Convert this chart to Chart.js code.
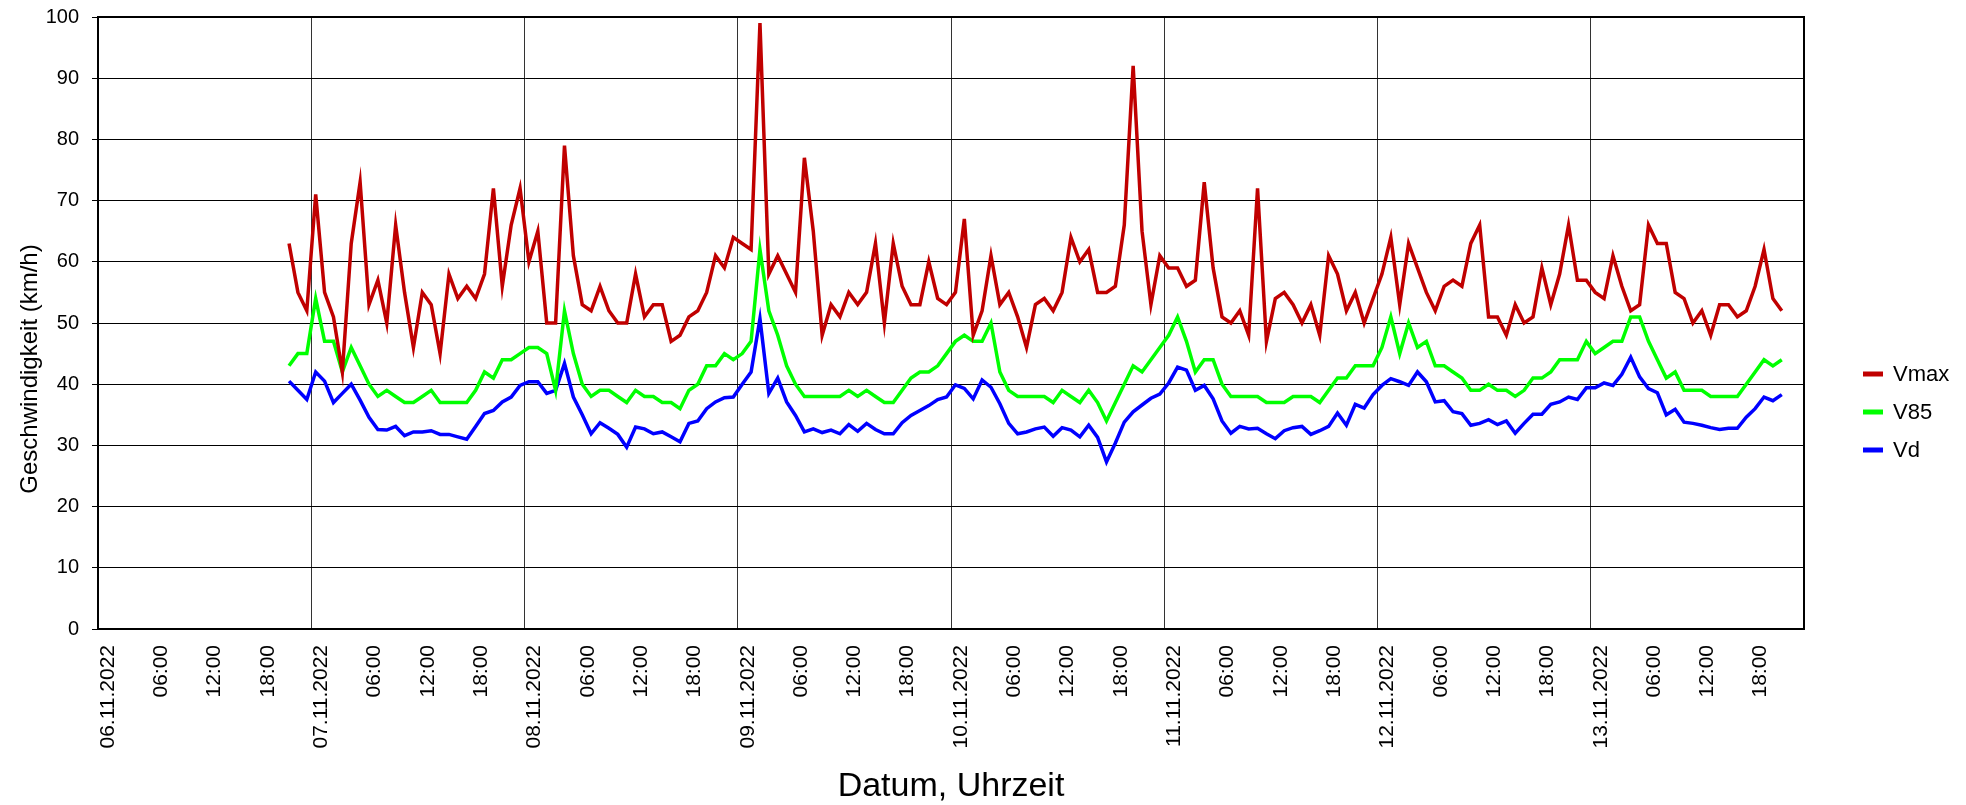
<!DOCTYPE html>
<html>
<head>
<meta charset="utf-8">
<title>Geschwindigkeit</title>
<script src="https://cdn.jsdelivr.net/npm/chart.js@4.4.1/dist/chart.umd.min.js"></script>
<style>
    html, body { margin: 0; padding: 0; background: #fff; }
    canvas { display: block; }
</style>
</head>
<body>
<canvas id="speedChart" width="1966" height="805"></canvas>
<script>
// stuendliche Werte, erster Wert 06.11.2022 21:30 (Stunden ab 06.11.2022 00:00)
const firstHour = 21.5;
const startDay = 6;
const totalHours = 192;

const vmax = [
    63,55,52,71,55,51,42,63,73,53,57,50,66,55,46,55,53,45,58,54,56,54,58,72,56,66,72,60,
    65,50,50,79,61,53,52,56,52,50,50,58,51,53,53,47,48,51,52,55,61,59,64,63,62,99,58,61,
    58,55,77,65,48,53,51,55,53,55,63,50,63,56,53,53,60,54,53,55,67,48,52,61,53,55,51,46,
    53,54,52,55,64,60,62,55,55,56,66,92,65,53,61,59,59,56,57,73,59,51,50,52,48,72,47,54,
    55,53,50,53,48,61,58,52,55,50,54,58,64,53,63,59,55,52,56,57,56,63,66,51,51,48,53,50,
    51,59,53,58,66,57,57,55,54,61,56,52,53,66,63,63,55,54,50,52,48,53,53,51,52,56,62,54,52
];
const v85 = [
    43,45,45,54,47,47,42,46,43,40,38,39,38,37,37,38,39,37,37,37,37,39,42,41,44,44,45,46,
    46,45,39,52,45,40,38,39,39,38,37,39,38,38,37,37,36,39,40,43,43,45,44,45,47,62,52,48,
    43,40,38,38,38,38,38,39,38,39,38,37,37,39,41,42,42,43,45,47,48,47,47,50,42,39,38,38,
    38,38,37,39,38,37,39,37,34,37,40,43,42,44,46,48,51,47,42,44,44,40,38,38,38,38,37,37,
    37,38,38,38,37,39,41,41,43,43,43,46,51,45,50,46,47,43,43,42,41,39,39,40,39,39,38,39,
    41,41,42,44,44,44,47,45,46,47,47,51,51,47,44,41,42,39,39,39,38,38,38,38,40,42,44,43,44
];
const vd = [
    40.5,39,37.5,42,40.5,37,38.5,40,37.4,34.6,32.6,32.5,33.1,31.6,32.2,32.2,32.4,31.8,31.8,31.4,31,33.1,35.2,35.7,37.1,37.9,39.8,40.4,
    40.4,38.5,39,43.4,37.9,35,31.9,33.7,32.8,31.8,29.7,33,32.7,31.9,32.2,31.4,30.6,33.6,34,36,37.1,37.8,37.9,40,42,50.7,38.5,41,
    37.1,34.9,32.2,32.7,32.1,32.5,31.9,33.4,32.3,33.6,32.6,31.9,31.9,33.7,34.9,35.7,36.5,37.5,37.9,39.9,39.3,37.6,40.7,39.5,36.8,33.6,31.9,32.2,
    32.7,33,31.5,32.9,32.5,31.4,33.3,31.3,27.3,30.4,33.8,35.5,36.6,37.7,38.4,40.2,42.8,42.3,39,39.8,37.6,34,32,33.1,32.7,32.8,31.9,31.1,
    32.4,32.9,33.1,31.8,32.4,33.1,35.3,33.3,36.7,36.1,38.3,39.8,40.9,40.4,39.8,42,40.4,37.1,37.3,35.5,35.2,33.3,33.6,34.2,33.4,34,32,33.6,
    35.1,35.1,36.7,37.1,37.9,37.5,39.4,39.4,40.2,39.8,41.6,44.4,41.2,39.3,38.6,35,35.9,33.8,33.6,33.3,32.9,32.6,32.8,32.8,34.6,36,37.9,37.3,38.3
];

const seriesNames = ['Vmax', 'V85', 'Vd'];
const seriesValues = [vmax, v85, vd];
const seriesColors = ['#c00000', '#00ff00', '#0000ff'];

const fontFamily = '"Liberation Sans", Arial, Helvetica, sans-serif';

function pad2(n) {
    return (n < 10 ? '0' : '') + n;
}

function hourLabel(value) {
    if (value >= totalHours) return '';
    if (value % 24 === 0) {
        return pad2(startDay + value / 24) + '.11.2022';
    }
    return pad2(value % 24) + ':00';
}

// Rahmen, Achsentitel und Legende
const extras = {
    id: 'extras',
    afterDraw(chart) {
        const ctx = chart.ctx;
        const a = chart.chartArea;
        ctx.save();
        ctx.strokeStyle = '#000';
        ctx.lineWidth = 2;
        ctx.strokeRect(a.left, a.top, a.right - a.left, a.bottom - a.top);

        ctx.fillStyle = '#000';
        ctx.textAlign = 'center';
        ctx.textBaseline = 'middle';
        ctx.font = '34px ' + fontFamily;
        ctx.fillText('Datum, Uhrzeit', (a.left + a.right) / 2, 787);

        ctx.save();
        ctx.translate(30, 369);
        ctx.rotate(-Math.PI / 2);
        ctx.font = '24px ' + fontFamily;
        ctx.fillText('Geschwindigkeit (km/h)', 0, 0);
        ctx.restore();

        ctx.font = '22px ' + fontFamily;
        ctx.textAlign = 'left';
        seriesNames.forEach(function(name, k) {
            const y = 374 + 38 * k;
            ctx.strokeStyle = seriesColors[k];
            ctx.lineWidth = 5;
            ctx.beginPath();
            ctx.moveTo(1863, y);
            ctx.lineTo(1883, y);
            ctx.stroke();
            ctx.fillStyle = '#000';
            ctx.fillText(name, 1893, y + 1);
        });
        ctx.restore();
    }
};

const datasets = seriesNames.map(function(name, k) {
    return {
        label: name,
        data: seriesValues[k].map(function(v, i) { return { x: firstHour + i, y: v }; }),
        borderColor: seriesColors[k],
        backgroundColor: seriesColors[k],
        borderWidth: 3.5,
        pointRadius: 0,
        tension: 0,
        fill: false
    };
});

new Chart(document.getElementById('speedChart').getContext('2d'), {
    type: 'line',
    data: { datasets: datasets },
    options: {
        responsive: false,
        animation: false,
        layout: { padding: { left: 0, right: 162, top: 17, bottom: 0 } },
        plugins: {
            legend: { display: false },
            tooltip: { enabled: false }
        },
        scales: {
            x: {
                type: 'linear',
                min: 0,
                max: totalHours,
                afterFit: function(scale) {
                    scale.height = 176;
                    scale.paddingLeft = 0;
                    scale.paddingRight = 0;
                },
                afterBuildTicks: function(scale) {
                    const ticks = [];
                    for (let h = 0; h <= totalHours; h += 6) ticks.push({ value: h });
                    scale.ticks = ticks;
                },
                ticks: {
                    autoSkip: false,
                    minRotation: 90,
                    maxRotation: 90,
                    labelOffset: 10,
                    padding: 16,
                    color: '#000',
                    font: { family: fontFamily, size: 21 },
                    callback: function(value) { return hourLabel(value); }
                },
                grid: {
                    drawTicks: false,
                    lineWidth: 1,
                    color: function(c) {
                        return c.tick && c.tick.value % 24 === 0 ? '#333' : 'rgba(0,0,0,0)';
                    }
                },
                border: { display: true, color: '#000', width: 2 }
            },
            y: {
                min: 0,
                max: 100,
                afterFit: function(scale) {
                    scale.width = 98;
                    scale.paddingTop = 0;
                    scale.paddingBottom = 0;
                },
                ticks: {
                    stepSize: 10,
                    padding: 13,
                    color: '#000',
                    font: { family: fontFamily, size: 20 }
                },
                grid: {
                    color: '#000',
                    lineWidth: 1,
                    tickLength: 6
                },
                border: { display: true, color: '#000', width: 2 }
            }
        }
    },
    plugins: [extras]
});
</script>
</body>
</html>
